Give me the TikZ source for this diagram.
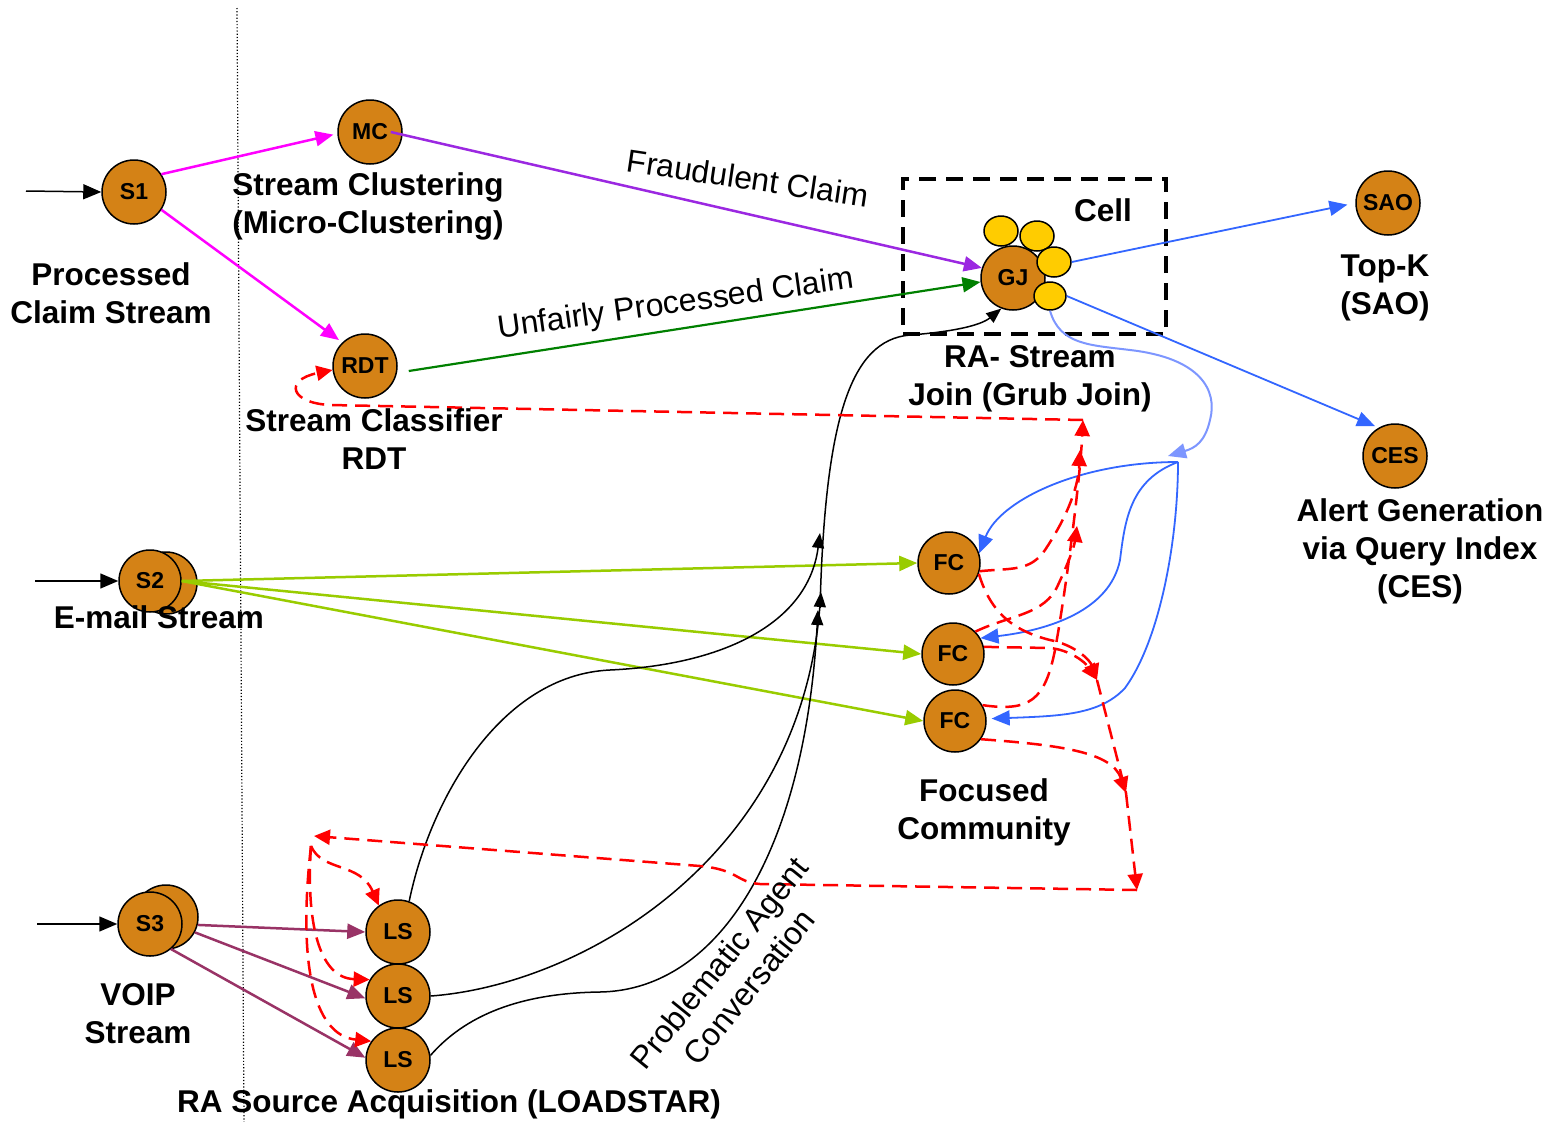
\documentclass[tikz,border=0pt]{standalone}
\usepackage{fontspec}
\setmainfont{Liberation Sans}
\usetikzlibrary{arrows.meta,shapes.geometric}
\definecolor{nodeor}{RGB}{212,130,22}
\definecolor{yelc}{RGB}{255,204,0}
\definecolor{magc}{RGB}{255,0,255}
\definecolor{purc}{RGB}{155,40,225}
\definecolor{grnc}{RGB}{0,128,0}
\definecolor{bluc}{RGB}{51,102,255}
\definecolor{lbluc}{RGB}{125,150,255}
\definecolor{ygc}{RGB}{153,204,0}
\definecolor{marc}{RGB}{153,51,102}
\begin{document}
\begin{tikzpicture}[x=1pt,y=-1pt,
  stnode/.style={circle, draw=black, line width=1.5pt, fill=nodeor, minimum size=64pt, inner sep=0pt, font=\fontsize{23}{23}\selectfont\bfseries},
  yel/.style={ellipse, draw=black, line width=1.5pt, fill=yelc, minimum width=34pt, minimum height=30pt, inner sep=0pt},
  lbl/.style={align=center, inner sep=0pt, font=\fontsize{31.5}{38}\selectfont\bfseries},
  elbl/.style={align=center, inner sep=0pt, font=\fontsize{32}{38}\selectfont},
  arw/.style={-{Triangle[length=18pt,width=15pt]}},
  sarw/.style={-{Triangle[length=15pt,width=12pt]}},
  rd/.style={draw=red, line width=2.5pt, dash pattern=on 15pt off 8pt, -{Triangle[length=16pt,width=15pt]}},
  rdn/.style={draw=red, line width=2.5pt, dash pattern=on 15pt off 8pt},
]
\useasboundingbox (0,0) rectangle (1548,1122);
\fill[white] (0,0) rectangle (1548,1122);

% dotted separator
\coordinate (dtop) at (237,8);
\coordinate (dbot) at (244,1122);
\draw[line width=1.2pt, dotted] (dtop) -- (dbot);

% cell box
\node[draw=black, line width=4pt, dash pattern=on 17pt off 10pt, minimum width=263pt, minimum height=155pt, inner sep=0pt] (cell) at (1034.5,256.5) {};

% nodes
\node[stnode] (S1) at (134,192) {S1};
\node[stnode] (MC) at (370,132) {MC};
\node[stnode] (RDT) at (365,366) {RDT};
\node[stnode, minimum size=62pt] (S2b) at (166,583) {};
\node[stnode, minimum size=62pt] (S2) at (150,581) {S2};
\node[stnode] (S3b) at (166,917) {};
\node[stnode] (S3) at (150,924) {S3};
\node[stnode] (LS1) at (398,932) {LS};
\node[stnode] (LS2) at (398,996) {LS};
\node[stnode] (LS3) at (398,1060) {LS};
\node[stnode, minimum size=62pt] (FC1) at (949,563) {FC};
\node[stnode, minimum size=62pt] (FC2) at (953,654) {FC};
\node[stnode, minimum size=62pt] (FC3) at (955,721) {FC};
\node[stnode] (GJ) at (1013,278) {GJ};
\node[yel] (y1) at (1001,231) {};
\node[yel] (y2) at (1037,236) {};
\node[yel] (y3) at (1054,262) {};
\node[yel, minimum width=32pt, minimum height=28pt] (y4) at (1050,296) {};
\node[stnode] (SAO) at (1388,203) {SAO};
\node[stnode] (CES) at (1395,456) {CES};

% input arrows
\coordinate (in1) at (26,191);
\coordinate (in2) at (35,581);
\coordinate (in3) at (37,924);
\draw[line width=1.5pt, arw] (in1) -- (S1.west);
\draw[line width=1.5pt, arw] (in2) -- (S2.west);
\draw[line width=1.5pt, arw] (in3) -- (S3.west);

% S1 connectors
\draw[magc, line width=2.5pt, arw, shorten >=4pt] (S1.33) -- (MC.183);
\draw[magc, line width=2.5pt, arw, shorten >=4pt] (S1.-33) -- (RDT.134);
\draw[purc, line width=2.5pt, arw] ([xshift=-12pt]MC.east) -- (GJ.162);
\draw[grnc, line width=2.2pt, arw] ([xshift=11pt,yshift=-5pt]RDT.east) -- (GJ.187);

% GJ outputs
\draw[bluc, line width=1.8pt, arw, shorten >=8pt] (y3.east) -- (SAO.west);
\draw[bluc, line width=1.8pt, arw, shorten >=4pt] (y4.east) -- (CES.120);

% light blue GJ -> hub
\coordinate (H) at (1168,456);
\coordinate (Hs) at (1178,462);
\draw[lbluc, line width=2pt, arw] (y4.south) .. controls (1060,345) and (1090,345) .. (1130,350) .. controls (1200,358) and (1218,390) .. (1210,420) .. controls (1205,442) and (1195,448) .. (H);

% blue hub -> FC
\draw[bluc, line width=1.8pt, arw] (Hs) .. controls (1080,462) and (1000,500) .. (FC1.18);
\draw[bluc, line width=1.8pt, arw] (Hs) .. controls (1130,480) and (1125,520) .. (1120,560) .. controls (1110,610) and (1050,630) .. (FC2.30);
\draw[bluc, line width=1.8pt, arw, shorten >=5pt] (Hs) .. controls (1178,540) and (1160,640) .. (1125,688) .. controls (1100,715) and (1060,716) .. (FC3.4);

% S2 -> FC
\draw[ygc, line width=2.5pt, arw] (S2.east) -- (FC1.west);
\draw[ygc, line width=2.5pt, arw] (S2.east) -- (FC2.west);
\draw[ygc, line width=2.5pt, arw] (S2.east) -- (FC3.west);

% S3 -> LS
\draw[marc, line width=2.5pt, arw] (S3b.-14) -- (LS1.west);
\draw[marc, line width=2.5pt, arw] (S3b.-28) -- (LS2.184);
\draw[marc, line width=2.5pt, arw] (S3.-50) -- (LS3.176);

% black LS curves and trunk to GJ
\coordinate (trk) at (820,608);
\draw[line width=1.5pt, sarw] (LS1.70) .. controls (430,800) and (500,675) .. (610,670) .. controls (720,665) and (808,625) .. (820,533);
\draw[line width=1.5pt, sarw] (LS2.east) .. controls (580,985) and (800,860) .. (821,592);
\draw[line width=1.5pt, sarw] (LS3.8) .. controls (470,1010) and (530,993) .. (600,992) .. controls (720,990) and (805,850) .. (818,610);
\draw[line width=1.5pt, sarw] (trk) .. controls (825,420) and (850,340) .. (910,335) .. controls (950,332) and (980,326) .. (GJ.249);

% red dashed feedback
\coordinate (rA) at (1083,420);
\coordinate (rB) at (1080,450);
\coordinate (rC) at (1077,526);
\coordinate (rD) at (1097,680);
\coordinate (rE) at (1126,793);
\coordinate (rF) at (1137,890);
\coordinate (rG) at (314,836);
\coordinate (rG2) at (311,846);

\draw[rd] (rA) -- (330,405) .. controls (290,403) and (284,380) .. (RDT.187);
\draw[rd] (FC3.30) .. controls (1030,712) and (1045,700) .. (1055,650) .. controls (1066,590) and (1080,480) .. (rA);
\draw[rd] (FC1.-15) .. controls (1010,568) and (1030,572) .. (1045,550) .. controls (1065,520) and (1078,490) .. (rB);
\draw[rd] (FC2.45) .. controls (1010,615) and (1045,615) .. (1058,585) .. controls (1066,568) and (1074,548) .. (rC);
\draw[rd] (FC1.-20) .. controls (990,610) and (1010,630) .. (1050,640) .. controls (1075,645) and (1090,660) .. (rD);
\draw[rd] (FC2.13) -- (1050,648) .. controls (1070,650) and (1085,662) .. (rD);
\draw[rdn] (rD) -- (rE);
\draw[rd] (FC3.-35) .. controls (1060,745) and (1112,752) .. (rE);
\draw[rd] (rE) -- (rF);
\draw[rd] (rF) -- (760,884) .. controls (735,882) and (740,870) .. (700,866) -- (rG);
\draw[rd] (rG2) .. controls (322,872) and (360,862) .. (LS1.126);
\draw[rd] (rG2) .. controls (306,920) and (318,978) .. (LS2.150);
\draw[rd] (rG2) .. controls (298,960) and (312,1035) .. (LS3.145);

% labels
\node[lbl] (tS1) at (111,293) {Processed\\Claim Stream};
\node[lbl] (tMC) at (368,206) {Stream Clustering\\(Micro-Clustering)};
\node[lbl] (tRDT) at (374,439) {Stream Classifier\\RDT};
\node[lbl] (tS2) at (159,617) {E-mail Stream};
\node[lbl] (tS3) at (138,1014) {VOIP\\Stream};
\node[lbl] (tLS) at (449,1104) {RA Source Acquisition (LOADSTAR)};
\node[lbl] (tGJ) at (1030,379) {RA- Stream\\Join (Grub Join)};
\node[lbl] (tcell) at (1103,210) {Cell};
\node[lbl] (tSAO) at (1385,288) {Top-K\\(SAO)};
\node[lbl] (tCES) at (1420,551) {Alert Generation\\via Query Index\\(CES)};
\node[lbl] (tFC) at (984,812) {Focused\\Community};
\node[elbl, rotate=-8.5] (tfr) at (748,178) {Fraudulent Claim};
\node[elbl, rotate=8] (tun) at (676,305) {Unfairly Processed Claim};
\node[elbl, rotate=51] (tpa) at (734,975) {Problematic Agent\\Conversation};
\end{tikzpicture}
\end{document}
